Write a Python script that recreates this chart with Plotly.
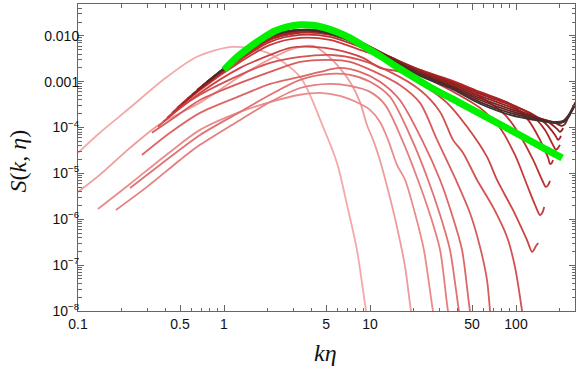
import plotly.graph_objects as go

# ---------------- data (kη, S) ----------------
k_01 = [0.1, 0.141, 0.227, 0.382, 0.653, 1.15, 1.97, 3.32, 4.77, 5.94, 6.96, 8.14, 9.4, 9.8]
S_01 = [2.8e-5, 7.7e-5, 2.7e-4, 1.09e-3, 3.5e-3, 5.75e-3, 4.3e-3, 1.28e-3, 1.04e-4, 1.7e-5, 2.06e-6, 2.14e-7, 1e-8, 5e-9]

k_02 = [0.1, 0.141, 0.227, 0.364, 0.685, 1.51, 2.83, 4.07, 4.77, 5.94, 7.29, 8.54, 9.53, 10.5, 11.7, 13.3, 15.3, 17.4, 19.1, 19.8]
S_02 = [3.95e-6, 9.3e-6, 3.6e-5, 1.2e-4, 3.5e-4, 1.8e-3, 4.95e-3, 6.05e-3, 4.5e-3, 2.34e-3, 1e-3, 3.6e-4, 1.14e-4, 5.4e-5, 1.95e-5, 4.3e-6, 6.8e-7, 9.1e-8, 1e-8, 6e-9]

k_03 = [0.137, 0.227, 0.427, 0.685, 1.29, 2.07, 3.32, 4.55, 6.23, 8.54, 10.0, 11.7, 13.3, 15.3, 17.4, 20.3, 23.4, 27.0, 27.9]
S_03 = [1.68e-6, 5.9e-6, 2.94e-5, 8.9e-5, 2.2e-4, 3.6e-4, 5.2e-4, 5.7e-4, 4.9e-4, 3.3e-4, 2.43e-4, 1.33e-4, 5.4e-5, 1.53e-5, 7.2e-6, 1.37e-6, 2.14e-7, 1e-8, 6.4e-9]

k_04 = [0.182, 0.297, 0.5, 0.685, 1.29, 2.07, 3.32, 5.32, 7.29, 10.0, 12.7, 16.6, 21.3, 25.8, 30.2, 34.2, 35.3]
S_04 = [1.6e-6, 5.1e-6, 1.97e-5, 4.2e-5, 1.47e-4, 3.6e-4, 7.3e-4, 8.97e-4, 8.1e-4, 6.0e-4, 3.13e-4, 5.4e-5, 7.2e-6, 1.24e-6, 2.14e-7, 1e-8, 6.4e-9]

k_05 = [0.227, 0.364, 0.685, 1.29, 2.07, 3.32, 5.32, 7.29, 10.0, 13.7, 19.4, 25.0, 30.2, 35.3, 40.7, 42.0]
S_05 = [4.8e-6, 1.53e-5, 6.9e-5, 2.2e-4, 5.2e-4, 1.1e-3, 1.48e-3, 1.41e-3, 1.0e-3, 4.7e-4, 5.4e-5, 7.2e-6, 1.24e-6, 2.14e-7, 1e-8, 6.4e-9]

k_06 = [0.274, 0.427, 0.685, 1.29, 2.07, 3.32, 4.55, 6.23, 8.54, 11.7, 16.0, 22.7, 30.2, 36.5, 42.7, 48.4, 50.0]
S_06 = [2.53e-5, 7.7e-5, 2.09e-4, 4.9e-4, 8.97e-4, 1.28e-3, 1.64e-3, 2.0e-3, 1.64e-3, 1.0e-3, 4.0e-4, 5.4e-5, 7.2e-6, 1.24e-6, 2.14e-7, 1e-8, 6.4e-9]

k_07 = [0.321, 0.462, 0.685, 1.29, 2.07, 3.32, 5.32, 7.29, 10.8, 16.0, 22.0, 28.8, 38.8, 48.4, 56.7, 63.3, 66.4, 67.4]
S_07 = [7.7e-5, 1.71e-4, 4.0e-4, 9.4e-4, 1.64e-3, 2.71e-3, 3.0e-3, 2.71e-3, 1.64e-3, 8.5e-4, 3.46e-4, 5.4e-5, 7.2e-6, 1.37e-6, 2.49e-7, 4.7e-8, 1e-8, 6.4e-9]

k_08 = [0.353, 0.5, 0.685, 1.29, 2.07, 3.32, 5.32, 8.54, 13.7, 22.0, 30.2, 37.0, 43.4, 54.1, 69.5, 86.8, 98.4, 110, 112]
S_08 = [1.04e-4, 2.69e-4, 5.2e-4, 1.41e-3, 2.58e-3, 3.48e-3, 3.85e-3, 3.0e-3, 1.64e-3, 6.6e-4, 2.2e-4, 5.4e-5, 2.8e-5, 7.2e-6, 1.86e-6, 4.1e-7, 9.1e-8, 1e-8, 6.4e-9]

k_09 = [0.382, 0.685, 1.29, 2.07, 2.83, 4.07, 5.94, 8.96, 11.7, 16.0, 22.0, 33.7, 46.2, 63.3, 74.1, 95.3, 119, 129, 137, 142]
S_09 = [1.33e-4, 5.7e-4, 2.0e-3, 3.85e-3, 5.48e-3, 5.75e-3, 4.95e-3, 3.31e-3, 2.0e-3, 1.64e-3, 9.4e-4, 3.46e-4, 1.04e-4, 2.29e-5, 7.2e-6, 1.6e-6, 3.5e-7, 1.94e-7, 2.62e-7, 3.05e-7]

k_10 = [0.407, 0.685, 1.29, 2.07, 3.32, 5.32, 8.54, 13.7, 22.0, 35.3, 56.7, 77.7, 98.4, 119, 135, 146, 151, 156]
S_10 = [1.63e-4, 6.6e-4, 2.71e-3, 6.37e-3, 9.05e-3, 8.18e-3, 4.95e-3, 3.0e-3, 1.41e-3, 6.6e-4, 2.69e-4, 9.8e-5, 2.53e-5, 5.6e-6, 2.06e-6, 1.24e-6, 1.37e-6, 1.86e-6]

k_11 = [0.441, 0.685, 1.29, 2.07, 3.32, 5.32, 8.54, 13.7, 22.0, 35.3, 56.7, 84.1, 106, 131, 151, 160, 166, 171]
S_11 = [2.09e-4, 7.0e-4, 3.0e-3, 7.4e-3, 1.05e-2, 9.5e-3, 5.75e-3, 3.15e-3, 1.64e-3, 8.97e-4, 4.7e-4, 1.89e-4, 6.9e-5, 1.97e-5, 7.2e-6, 5.1e-6, 5.6e-6, 6.9e-6]

k_12 = [0.477, 0.685, 1.29, 2.07, 3.32, 5.32, 8.54, 13.7, 22.0, 35.3, 56.7, 91.0, 121, 146, 166, 171, 176, 179]
S_12 = [2.69e-4, 7.0e-4, 3.15e-3, 8.18e-3, 1.16e-2, 1.05e-2, 6.37e-3, 3.31e-3, 1.81e-3, 1.1e-3, 6.0e-4, 3.3e-4, 1.47e-4, 5.4e-5, 2.18e-5, 1.61e-5, 1.7e-5, 1.97e-5]

k_13 = [0.516, 0.685, 1.29, 2.07, 3.32, 5.32, 8.54, 13.7, 22.0, 35.3, 56.7, 91.0, 125, 158, 179, 188, 194, 200]
S_13 = [3.3e-4, 7.0e-4, 3.31e-3, 8.6e-3, 1.22e-2, 1.11e-2, 6.7e-3, 3.48e-3, 1.81e-3, 1.04e-3, 5.7e-4, 3.3e-4, 1.99e-4, 8.9e-5, 4.2e-5, 3.26e-5, 3.6e-5, 4.2e-5]

k_14 = [0.558, 0.685, 1.29, 2.07, 3.32, 5.32, 8.54, 13.7, 22.0, 35.3, 56.7, 91.0, 125, 158, 185, 194, 200, 203]
S_14 = [4.2e-4, 7.0e-4, 3.48e-3, 9.05e-3, 1.28e-2, 1.16e-2, 7.04e-3, 3.48e-3, 1.73e-3, 1.0e-3, 5.4e-4, 3.13e-4, 2.09e-4, 1.26e-4, 6.9e-5, 5.4e-5, 5.96e-5, 6.6e-5]

k_15 = [0.604, 1.29, 2.07, 3.32, 5.32, 8.54, 13.7, 22.0, 35.3, 56.7, 91.0, 125, 166, 191, 200, 207, 210]
S_15 = [5.2e-4, 3.66e-3, 9.5e-3, 1.35e-2, 1.22e-2, 7.4e-3, 3.48e-3, 1.64e-3, 9.4e-4, 4.9e-4, 2.83e-4, 1.89e-4, 1.33e-4, 9.35e-5, 8.1e-5, 8.9e-5, 9.8e-5]

k_16 = [0.653, 1.29, 2.07, 3.32, 5.32, 8.54, 13.7, 22.0, 35.3, 56.7, 91.0, 135, 185, 207, 217, 227, 242, 254, 274]
S_16 = [6.6e-4, 3.66e-3, 1.0e-2, 1.35e-2, 1.22e-2, 7.4e-3, 3.31e-3, 1.56e-3, 8.5e-4, 4.4e-4, 2.56e-4, 1.71e-4, 1.26e-4, 1.09e-4, 1.2e-4, 1.63e-4, 2.43e-4, 3.3e-4, 5.2e-4]

k_17 = [0.707, 1.29, 2.07, 3.32, 5.32, 8.54, 13.7, 22.0, 35.3, 56.7, 91.0, 146, 185, 210, 227, 242, 254, 274]
S_17 = [8.1e-4, 3.66e-3, 1.0e-2, 1.35e-2, 1.16e-2, 7.04e-3, 3.31e-3, 1.48e-3, 8.1e-4, 4.0e-4, 2.31e-4, 1.55e-4, 1.33e-4, 1.4e-4, 1.8e-4, 2.56e-4, 3.46e-4, 5.4e-4]

k_18 = [0.765, 1.29, 2.07, 3.32, 5.32, 8.54, 13.7, 22.0, 35.3, 56.7, 91.0, 146, 188, 210, 227, 242, 254, 274]
S_18 = [1.0e-3, 3.66e-3, 1.0e-2, 1.35e-2, 1.16e-2, 6.7e-3, 3.15e-3, 1.41e-3, 7.7e-4, 3.6e-4, 2.09e-4, 1.47e-4, 1.26e-4, 1.33e-4, 1.71e-4, 2.43e-4, 3.3e-4, 5.2e-4]

k_19 = [0.828, 1.29, 2.07, 3.32, 5.32, 8.54, 13.7, 22.0, 35.3, 56.7, 91.0, 146, 191, 213, 227, 242, 254, 274]
S_19 = [1.21e-3, 3.66e-3, 1.0e-2, 1.35e-2, 1.11e-2, 6.37e-3, 3.0e-3, 1.34e-3, 7.3e-4, 3.3e-4, 1.89e-4, 1.4e-4, 1.26e-4, 1.33e-4, 1.63e-4, 2.31e-4, 3.13e-4, 4.9e-4]

k_fit = [1.0, 1.21, 1.51, 1.85, 2.23, 2.70, 3.32, 4.07, 4.92, 5.94, 7.29, 8.53, 11.7, 16.0, 25.7, 41.2, 66.1, 106, 158, 207]
S_fit = [1.81e-3, 3.31e-3, 5.75e-3, 9.06e-3, 1.28e-2, 1.57e-2, 1.74e-2, 1.70e-2, 1.50e-2, 1.22e-2, 9.06e-3, 6.7e-3, 3.66e-3, 1.91e-3, 7.7e-4, 3.46e-4, 1.55e-4, 6.9e-5, 3.43e-5, 2.18e-5]

x_tickvals = [0.1, 0.5, 1, 5, 10, 50, 100]
x_ticktext = ["0.1", "0.5", "1", "5", "10", "50", "100"]
y_tickvals = [1e-8, 1e-7, 1e-6, 1e-5, 1e-4, 1e-3, 1e-2]
y_ticktext = ["10<sup>\u22128</sup>", "10<sup>\u22127</sup>", "10<sup>\u22126</sup>",
              "10<sup>\u22125</sup>", "10<sup>\u22124</sup>", "0.001", "0.010"]

series = [
    (k_01, S_01, "#f2aaaa"), (k_02, S_02, "#ee9c9c"), (k_03, S_03, "#e98c8c"),
    (k_04, S_04, "#e57f7f"), (k_05, S_05, "#e17272"), (k_06, S_06, "#dc6767"),
    (k_07, S_07, "#d85c5c"), (k_08, S_08, "#d35252"), (k_09, S_09, "#cc4545"),
    (k_10, S_10, "#c43b3b"), (k_11, S_11, "#bc3232"), (k_12, S_12, "#b42b2b"),
    (k_13, S_13, "#aa2626"), (k_14, S_14, "#9e2222"), (k_15, S_15, "#902121"),
    (k_16, S_16, "#7e2121"), (k_17, S_17, "#6a2323"), (k_18, S_18, "#552626"),
    (k_19, S_19, "#3d3131"),
]

fig = go.Figure()
for kk, ss, col in series:
    fig.add_trace(go.Scatter(x=kk, y=ss, mode="lines",
                             line=dict(color=col, width=1.8, shape="spline", smoothing=0.8),
                             showlegend=False, hoverinfo="skip"))
fig.add_trace(go.Scatter(x=k_fit, y=S_fit, mode="lines",
                         line=dict(color="#00f000", width=7, shape="spline", smoothing=0.8),
                         showlegend=False, hoverinfo="skip"))

x_minor = [0.2, 0.3, 0.4, 0.6, 0.7, 0.8, 0.9, 2, 3, 4, 6, 7, 8, 9,
           20, 30, 40, 60, 70, 80, 90, 200]
y_minor = [m * 10.0 ** e for e in range(-8, -1) for m in range(2, 10)]

axis_common = dict(type="log", showgrid=False, zeroline=False, showline=True, automargin=False,
                   linecolor="#666666", linewidth=1, mirror="allticks",
                   ticks="inside", ticklen=6, tickwidth=1, tickcolor="#666666",
                   tickfont=dict(family="Liberation Sans, Arial, sans-serif", size=14, color="#111111"))

fig.update_layout(
    width=581, height=372,
    margin=dict(l=78, r=6, t=4, b=61),
    paper_bgcolor="white", plot_bgcolor="white",
    xaxis=dict(range=[-1, 2.404], tickmode="array", tickvals=x_tickvals, ticktext=x_ticktext,
               minor=dict(tickmode="array", tickvals=x_minor, ticks="inside", ticklen=3.5,
                          tickcolor="#666666", showgrid=False),
               **axis_common),
    yaxis=dict(range=[-8, -1.305], tickmode="array", tickvals=y_tickvals, ticktext=y_ticktext,
               ticklabelstandoff=-5,
               minor=dict(tickmode="array", tickvals=y_minor, ticks="inside", ticklen=3.5,
                          tickcolor="#666666", showgrid=False),
               **axis_common),
    annotations=[
        dict(text="<i>kη</i>", xref="paper", yref="paper", x=0.497, y=-0.137,
             xanchor="center", yanchor="middle", showarrow=False,
             font=dict(family="Liberation Serif, Times New Roman, serif", size=24, color="#111111")),
        dict(text="<i>S</i>(<i>k</i>, <i>η</i>)", xref="paper", yref="paper", x=-0.121, y=0.49,
             xanchor="center", yanchor="middle", textangle=-90, showarrow=False,
             font=dict(family="Liberation Serif, Times New Roman, serif", size=24, color="#111111")),
    ],
)

fig.write_html("out.html", config={"displayModeBar": False},
               post_script="document.body.style.margin='0';document.body.style.padding='0';"
                           "document.documentElement.style.overflow='hidden';")
